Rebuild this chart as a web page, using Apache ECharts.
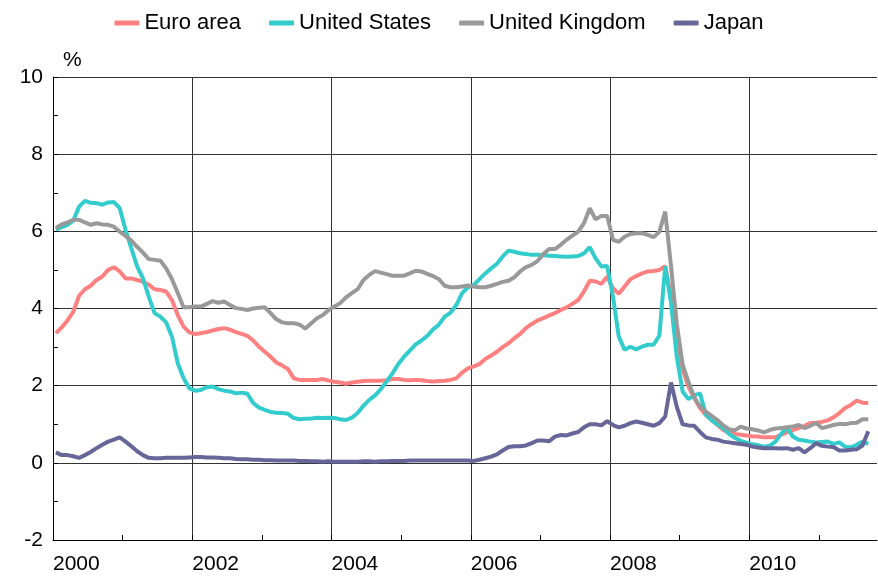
<!DOCTYPE html>
<html>
<head>
<meta charset="utf-8">
<script src="https://cdn.jsdelivr.net/npm/echarts@6/dist/echarts.min.js"></script>
<style>
html, body { margin: 0; padding: 0; background: #fff; }
#line { width: 878px; height: 583px; }
</style>
</head>
<body>
<div id="line"></div>
<script>
// tick labels, one per 24 months starting Jan 2000
var yearLabels = ['2000', '2002', '2004', '2006', '2008', '2010'];

// monthly values, Jan 2000 .. Sep 2011 (%)
var euroArea = [
    3.36, 3.51, 3.69, 3.92, 4.33, 4.50, 4.59, 4.74, 4.83, 5.00, 5.07, 4.96,
    4.78, 4.78, 4.74, 4.69, 4.62, 4.50, 4.48, 4.44, 4.22, 3.83, 3.53, 3.38,
    3.34, 3.36, 3.39, 3.43, 3.47, 3.49, 3.45, 3.39, 3.34, 3.29, 3.17, 3.01,
    2.88, 2.75, 2.60, 2.52, 2.43, 2.19, 2.15, 2.15, 2.15, 2.15, 2.17, 2.13,
    2.10, 2.08, 2.05, 2.08, 2.10, 2.12, 2.13, 2.13, 2.13, 2.14, 2.17, 2.17,
    2.15, 2.14, 2.15, 2.14, 2.12, 2.11, 2.12, 2.13, 2.15, 2.19, 2.34, 2.45,
    2.50, 2.56, 2.69, 2.78, 2.88, 3.00, 3.10, 3.23, 3.34, 3.49, 3.60, 3.69,
    3.75, 3.82, 3.88, 3.96, 4.03, 4.12, 4.22, 4.44, 4.72, 4.70, 4.64, 4.82,
    4.53, 4.38, 4.57, 4.76, 4.84, 4.91, 4.96, 4.97, 5.00, 5.10, 4.30, 3.25,
    2.42, 1.98, 1.68, 1.42, 1.24, 1.11, 0.98, 0.85, 0.79, 0.75, 0.73, 0.71,
    0.69, 0.68, 0.66, 0.66, 0.66, 0.73, 0.79, 0.85, 0.90, 0.96, 1.03, 1.04,
    1.06, 1.10, 1.18, 1.29, 1.42, 1.50, 1.61, 1.56, 1.55
];
var unitedStates = [
    6.04, 6.11, 6.17, 6.28, 6.64, 6.79, 6.74, 6.73, 6.69, 6.75, 6.76, 6.60,
    6.04, 5.56, 5.09, 4.78, 4.31, 3.88, 3.79, 3.64, 3.27, 2.58, 2.19, 1.93,
    1.87, 1.89, 1.96, 1.98, 1.91, 1.87, 1.85, 1.80, 1.82, 1.79, 1.55, 1.43,
    1.37, 1.32, 1.30, 1.29, 1.27, 1.16, 1.13, 1.14, 1.15, 1.17, 1.16, 1.17,
    1.16, 1.13, 1.11, 1.17, 1.29, 1.48, 1.63, 1.75, 1.91, 2.11, 2.32, 2.56,
    2.75, 2.91, 3.07, 3.17, 3.29, 3.46, 3.58, 3.79, 3.89, 4.09, 4.40, 4.55,
    4.61, 4.76, 4.91, 5.04, 5.16, 5.35, 5.50, 5.47, 5.43, 5.41, 5.39, 5.39,
    5.38, 5.37, 5.36, 5.35, 5.34, 5.35, 5.36, 5.43, 5.59, 5.30, 5.09, 5.10,
    4.31, 3.27, 2.93, 3.01, 2.94, 3.01, 3.06, 3.06, 3.30, 5.10, 4.15, 2.75,
    1.85, 1.65, 1.75, 1.80, 1.25, 1.10, 1.00, 0.90, 0.75, 0.65, 0.57, 0.52,
    0.48, 0.46, 0.42, 0.44, 0.55, 0.75, 0.92, 0.68, 0.60, 0.58, 0.55, 0.53,
    0.54, 0.55, 0.49, 0.53, 0.42, 0.40, 0.47, 0.55, 0.49
];
var unitedKingdom = [
    6.08, 6.18, 6.23, 6.30, 6.30, 6.23, 6.17, 6.21, 6.18, 6.17, 6.12, 5.99,
    5.88, 5.76, 5.60, 5.45, 5.28, 5.26, 5.24, 5.04, 4.76, 4.40, 4.03, 4.03,
    4.05, 4.05, 4.12, 4.19, 4.15, 4.18, 4.09, 4.01, 3.99, 3.96, 4.00, 4.02,
    4.03, 3.88, 3.72, 3.64, 3.62, 3.62, 3.58, 3.48, 3.62, 3.75, 3.83, 3.96,
    4.05, 4.14, 4.29, 4.40, 4.50, 4.74, 4.87, 4.97, 4.93, 4.89, 4.85, 4.85,
    4.85, 4.91, 4.98, 4.96, 4.90, 4.84, 4.76, 4.59, 4.55, 4.55, 4.57, 4.60,
    4.57, 4.55, 4.55, 4.59, 4.64, 4.69, 4.72, 4.81, 4.96, 5.07, 5.13, 5.23,
    5.41, 5.54, 5.54, 5.65, 5.78, 5.89, 5.99, 6.21, 6.60, 6.31, 6.40, 6.40,
    5.78, 5.73, 5.86, 5.93, 5.95, 5.95, 5.91, 5.85, 5.99, 6.51, 5.10, 3.60,
    2.55, 2.10, 1.70, 1.46, 1.33, 1.22, 1.11, 0.97, 0.87, 0.84, 0.94, 0.89,
    0.87, 0.84, 0.79, 0.85, 0.89, 0.90, 0.92, 0.94, 0.98, 0.90, 0.96, 1.03,
    0.90, 0.94, 0.98, 1.01, 1.00, 1.03, 1.04, 1.13, 1.13
];
var japan = [
    0.27, 0.20, 0.20, 0.17, 0.13, 0.20, 0.28, 0.38, 0.47, 0.55, 0.60, 0.66,
    0.55, 0.43, 0.30, 0.20, 0.13, 0.12, 0.12, 0.13, 0.13, 0.13, 0.13, 0.14,
    0.15, 0.15, 0.14, 0.14, 0.13, 0.12, 0.12, 0.10, 0.09, 0.09, 0.08, 0.08,
    0.07, 0.07, 0.06, 0.06, 0.06, 0.06, 0.05, 0.05, 0.04, 0.04, 0.03, 0.04,
    0.03, 0.03, 0.03, 0.03, 0.03, 0.04, 0.04, 0.03, 0.04, 0.04, 0.05, 0.05,
    0.05, 0.06, 0.06, 0.06, 0.06, 0.06, 0.06, 0.06, 0.06, 0.06, 0.06, 0.06,
    0.05, 0.08, 0.12, 0.16, 0.22, 0.32, 0.41, 0.43, 0.43, 0.45, 0.51, 0.58,
    0.58, 0.56, 0.68, 0.72, 0.71, 0.76, 0.80, 0.92, 1.00, 1.00, 0.97, 1.08,
    0.98, 0.92, 0.96, 1.03, 1.07, 1.04, 1.00, 0.96, 1.03, 1.20, 2.08, 1.45,
    1.00, 0.97, 0.96, 0.80, 0.66, 0.62, 0.60, 0.55, 0.53, 0.51, 0.49, 0.47,
    0.42, 0.40, 0.38, 0.38, 0.38, 0.37, 0.38, 0.34, 0.38, 0.27, 0.38, 0.51,
    0.44, 0.42, 0.41, 0.32, 0.32, 0.34, 0.35, 0.45, 0.82
];

var font = "'Liberation Sans', Arial, sans-serif";

// each month sits in the middle of its slot
function toPoints(arr) {
    return arr.map(function (v, i) { return [i + 0.5, v]; });
}

function makeSeries(name, arr, color) {
    return {
        name: name,
        type: 'line',
        showSymbol: false,
        symbol: 'none',
        data: toPoints(arr),
        lineStyle: { width: 4, color: color },
        itemStyle: { color: color },
        emphasis: { disabled: true }
    };
}

var myChart = echarts.init(document.getElementById('line'));

var option = {
    animation: false,
    textStyle: { fontFamily: font, color: '#000' },
    legend: {
        top: 7,
        left: 'center',
        icon: 'roundRect',
        itemWidth: 25,
        itemHeight: 5,
        itemGap: 28,
        textStyle: { fontSize: 22, color: '#000', fontFamily: font },
        data: ['Euro area', 'United States', 'United Kingdom', 'Japan']
    },
    grid: {
        left: 53,
        right: 1,
        top: 77,
        bottom: 43,
        containLabel: false
    },
    xAxis: {
        type: 'value',
        min: 0,
        max: 142,
        interval: 12,
        axisLine: { onZero: false, lineStyle: { color: '#000', width: 1 } },
        axisTick: { show: true, inside: true, length: 5, lineStyle: { color: '#000' } },
        // gridline only every second year
        splitLine: {
            show: true, showMinLine: false, showMaxLine: false,
            lineStyle: { color: ['rgba(0,0,0,0)', '#333'], width: 1 }
        },
        axisLabel: {
            fontSize: 21,
            color: '#000',
            fontFamily: font,
            align: 'left',
            margin: 14,
            showMaxLabel: false,
            formatter: function (v) {
                if (v % 24 !== 0) return '';
                var s = yearLabels[v / 24];
                return s ? s : '';
            }
        }
    },
    yAxis: {
        type: 'value',
        min: -2,
        max: 10,
        interval: 2,
        name: '%',
        nameLocation: 'end',
        nameGap: 6,
        nameTextStyle: { fontSize: 21, color: '#000', fontFamily: font, align: 'left', padding: [0, 0, 0, 10] },
        axisLine: { show: true, onZero: false, lineStyle: { color: '#000', width: 1 } },
        axisTick: { show: true, inside: true, length: 5, lineStyle: { color: '#000' } },
        minorTick: { show: true, splitNumber: 2, length: 5, lineStyle: { color: '#000' } },
        splitLine: { show: true, showMinLine: false, lineStyle: { color: '#333', width: 1 } },
        axisLabel: { fontSize: 21, color: '#000', fontFamily: font, margin: 10 }
    },
    series: [
        makeSeries('Euro area', euroArea, '#ff8080'),
        makeSeries('United States', unitedStates, '#33cccc'),
        makeSeries('United Kingdom', unitedKingdom, '#999999'),
        makeSeries('Japan', japan, '#666699')
    ]
};

myChart.setOption(option);
</script>
</body>
</html>
